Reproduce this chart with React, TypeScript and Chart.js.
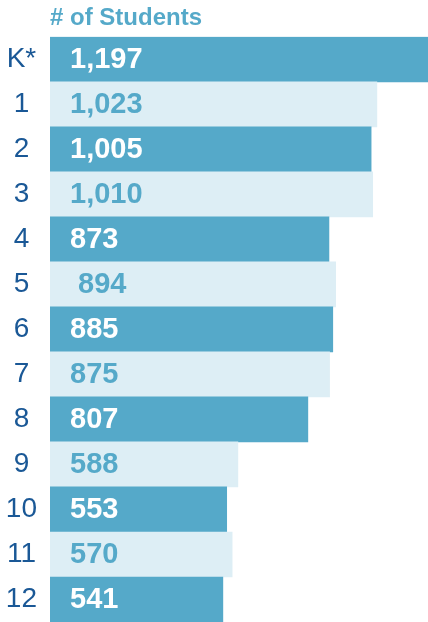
import React, { useEffect, useRef } from "react";
import { Chart, registerables } from "chart.js";

Chart.register(...registerables);

const grades = ["K*", "1", "2", "3", "4", "5", "6", "7", "8", "9", "10", "11", "12"];
const students = [1197, 1023, 1005, 1010, 873, 894, 885, 875, 807, 588, 553, 570, 541];
const valueText = ["1,197", "1,023", "1,005", "1,010", "873", " 894", "885", "875", "807", "588", "553", "570", "541"];
const titleText = "# of Students";

const DARK = "rgb(85,169,201)";
const LIGHT = "rgb(221,238,245)";
const LABEL_BLUE = "rgb(26,88,150)";
const FONT = "'Liberation Sans', Arial, sans-serif";

const valueLabelPlugin = {
  id: "valueLabels",
  afterDatasetsDraw(chart: any) {
    const ctx = chart.ctx;
    const meta = chart.getDatasetMeta(0);
    ctx.save();
    ctx.font = `bold 29px ${FONT}`;
    ctx.textBaseline = "middle";
    ctx.textAlign = "left";
    meta.data.forEach((el: any, i: number) => {
      ctx.fillStyle = i % 2 === 0 ? "#ffffff" : DARK;
      ctx.fillText(valueText[i], el.base + 20, el.y + 1);
    });
    ctx.restore();
  },
};

export default function App() {
  const ref = useRef<HTMLCanvasElement>(null);
  useEffect(() => {
    if (!ref.current) return;
    const chart = new Chart(ref.current, {
      type: "bar",
      data: {
        labels: grades,
        datasets: [
          {
            data: students,
            backgroundColor: students.map((_, i) => (i % 2 === 0 ? DARK : LIGHT)),
            borderWidth: 0,
            categoryPercentage: 1,
            barPercentage: 1,
          },
        ],
      },
      options: {
        indexAxis: "y",
        responsive: false,
        animation: false,
        layout: { padding: 0 },
        plugins: {
          legend: { display: false },
          tooltip: { enabled: false },
          title: {
            display: true,
            text: titleText,
            align: "start",
            fullSize: false,
            color: DARK,
            font: { family: FONT, size: 24, weight: "bold" },
            padding: { top: 4, bottom: 4 },
          },
        },
        scales: {
          x: { display: false, min: 0, max: 1183 },
          y: {
            grid: { display: false, drawTicks: false },
            border: { display: false },
            ticks: {
              color: LABEL_BLUE,
              font: { family: FONT, size: 28 },
              padding: 13,
              crossAlign: "center",
            },
            afterFit(scale: any) {
              scale.width = 50;
              scale.paddingTop = 0;
              scale.paddingBottom = 0;
            },
          },
        },
      },
      plugins: [valueLabelPlugin],
    } as any);
    return () => chart.destroy();
  }, []);
  return (
    <div style={{ position: "fixed", left: 0, top: 0, width: 428, height: 622 }}>
      <canvas ref={ref} width={428} height={622} style={{ display: "block" }} />
    </div>
  );
}
